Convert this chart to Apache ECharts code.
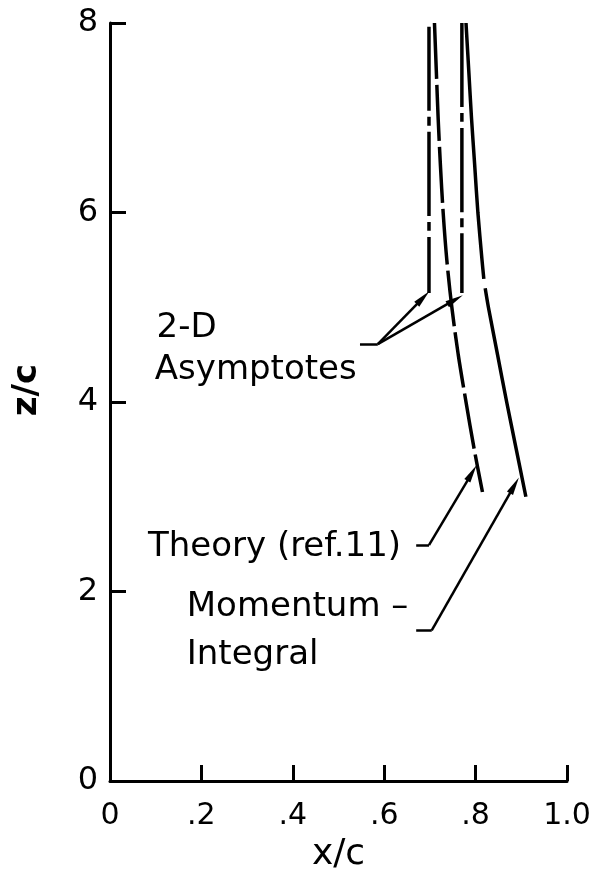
<!DOCTYPE html>
<html>
<head>
<meta charset="utf-8">
<script src="https://cdn.jsdelivr.net/npm/echarts@6/dist/echarts.min.js"></script>
<style>
  html, body { margin: 0; padding: 0; background: #fff; }
  #chart { width: 594px; height: 876px; }
</style>
</head>
<body>
<div id="chart"></div>
<script>
// Axis ticks
const xTicks = [0, 0.2, 0.4, 0.6, 0.8, 1.0];
const xTickLabels = ['0', '.2', '.4', '.6', '.8', '1.0'];
const zTicks = [0, 2, 4, 6, 8];
const zTickLabels = ['0', '2', '4', '6', '8'];

// Spanwise distributions, [x/c, z/c]
const theoryCurve = [
  [0.710, 8.0], [0.714, 7.5], [0.718, 7.0], [0.723, 6.5], [0.729, 6.0],
  [0.737, 5.5], [0.748, 5.0], [0.762, 4.5], [0.779, 4.0], [0.797, 3.5], [0.815, 3.05]
];
const momentumUpper = [
  [0.779, 8.0], [0.785, 7.5], [0.791, 7.0], [0.798, 6.5], [0.805, 6.0],
  [0.814, 5.5], [0.818, 5.3]
];
const momentumLower = [
  [0.821, 5.2], [0.828, 5.0], [0.848, 4.5], [0.868, 4.0], [0.889, 3.5], [0.910, 3.0]
];
const asymptoteTheory = [[0.698, 7.96], [0.698, 5.15]];
const asymptoteMomentum = [[0.770, 8.0], [0.770, 5.15]];

// Leader stubs and arrowed leaders, [[x/c, z/c], [x/c, z/c]]
const leaderStubs = [
  [[0.547, 4.61], [0.586, 4.61]],
  [[0.670, 2.49], [0.698, 2.49]],
  [[0.670, 1.59], [0.704, 1.59]]
];
const leaderArrows = [
  [[0.586, 4.61], [0.685, 5.10]],
  [[0.586, 4.61], [0.755, 5.08]],
  [[0.698, 2.49], [0.792, 3.25]],
  [[0.704, 1.59], [0.885, 3.12]]
];

// Annotation text anchors (left edge, vertical centre), [x/c, z/c, text]
const notes = [
  [0.102, 4.78, '2-D'],
  [0.098, 4.34, 'Asymptotes'],
  [0.083, 2.47, 'Theory (ref.11)'],
  [0.168, 1.83, 'Momentum \u2013'],
  [0.168, 1.33, 'Integral']
];

const FONT = 'DejaVu Sans';
const INK = '#000';
// slender filled arrowhead, padded to a square box so it keeps its shape
const arrowHead = 'path://M0,0 L3.5,18 L-3.5,18 Z M-9,18 L-9,18 M9,0 L9,0';

const chart = echarts.init(document.getElementById('chart'), null, { renderer: 'canvas' });

const curveSeries = (data, dash) => ({
  type: 'line',
  data: data,
  smooth: 0.3,
  symbol: 'none',
  silent: true,
  connectNulls: false,
  lineStyle: { color: INK, width: 3.5, type: dash || 'solid', cap: 'butt' }
});

const leaderSeries = (segments, endSymbol) => ({
  type: 'lines',
  coordinateSystem: 'cartesian2d',
  silent: true,
  symbol: ['none', endSymbol],
  symbolSize: [1, 18],
  lineStyle: { color: INK, width: 2.5, opacity: 1, curveness: 0 },
  itemStyle: { color: INK },
  data: segments.map(c => ({ coords: c }))
});

chart.setOption({
  animation: false,
  backgroundColor: '#fff',
  grid: { left: 110, right: 27, top: 23, bottom: 95, containLabel: false, outerBoundsMode: 'none' },
  xAxis: {
    type: 'value',
    min: 0, max: 1.0, interval: 0.2,
    name: 'x/c',
    nameLocation: 'middle',
    nameGap: 56,
    nameTextStyle: { fontFamily: FONT, fontSize: 36, color: INK },
    axisLine: { lineStyle: { color: INK, width: 3 } },
    axisTick: { inside: true, length: 16, lineStyle: { color: INK, width: 3 } },
    axisLabel: {
      fontFamily: FONT, fontSize: 30, color: INK, margin: 20,
      formatter: v => xTickLabels[xTicks.findIndex(t => Math.abs(t - v) < 1e-6)]
    },
    splitLine: { show: false }
  },
  yAxis: {
    type: 'value',
    min: 0, max: 8, interval: 2,
    name: 'z/c',
    nameLocation: 'middle',
    nameRotate: 90,
    nameGap: 66,
    nameTextStyle: { fontFamily: FONT, fontSize: 34, color: INK, fontWeight: 'bold', padding: [0, 0, 0, 24] },
    axisLine: { lineStyle: { color: INK, width: 3 } },
    axisTick: { inside: true, length: 16, lineStyle: { color: INK, width: 3 } },
    axisLabel: {
      fontFamily: FONT, fontSize: 32, color: INK, margin: 12,
      formatter: v => zTickLabels[zTicks.indexOf(v)]
    },
    splitLine: { show: false }
  },
  series: [
    curveSeries(theoryCurve, [56, 6]),
    curveSeries(momentumUpper.concat([null], momentumLower)),
    curveSeries(asymptoteTheory, [84, 6, 9, 6]),
    curveSeries(asymptoteMomentum, [84, 6, 9, 6]),
    leaderSeries(leaderStubs, 'none'),
    leaderSeries(leaderArrows, arrowHead),
    {
      type: 'scatter',
      silent: true,
      symbolSize: 0,
      itemStyle: { opacity: 1 },
      data: notes,
      label: {
        show: true,
        position: [0, 0],
        align: 'left',
        verticalAlign: 'middle',
        fontFamily: FONT,
        fontSize: 34,
        color: INK,
        opacity: 1,
        formatter: p => p.data[2]
      }
    }
  ]
});
</script>
</body>
</html>
